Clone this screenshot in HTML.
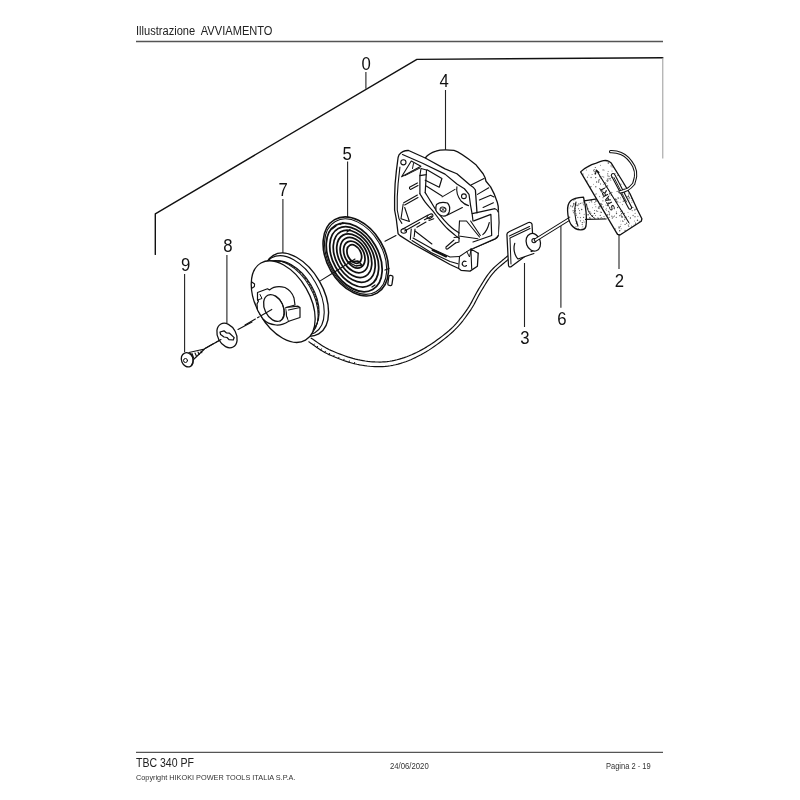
<!DOCTYPE html>
<html><head><meta charset="utf-8">
<style>
html,body{margin:0;padding:0;background:#fff;}
body{width:800px;height:800px;overflow:hidden;position:relative;}
svg{position:absolute;left:0;top:0;}
text{font-family:"Liberation Sans", sans-serif;}
svg{will-change:transform;}
</style></head><body>
<svg width="800" height="800" viewBox="0 0 800 800">
<rect width="800" height="800" fill="#fff"/>
<!-- header -->
<text x="136" y="35" font-size="12" fill="#222" textLength="136.5" lengthAdjust="spacingAndGlyphs" xml:space="preserve">Illustrazione  AVVIAMENTO</text>
<line x1="136" y1="41.5" x2="663" y2="41.5" stroke="#555" stroke-width="1.3"/>
<!-- footer -->
<line x1="136" y1="752.3" x2="663" y2="752.3" stroke="#555" stroke-width="1.3"/>
<text x="136" y="767" font-size="12" fill="#222" textLength="58" lengthAdjust="spacingAndGlyphs">TBC 340 PF</text>
<text x="136" y="780.3" font-size="7.4" fill="#333" textLength="159.5" lengthAdjust="spacingAndGlyphs">Copyright HIKOKI POWER TOOLS ITALIA S.P.A.</text>
<text x="390" y="768.6" font-size="8.2" fill="#333" textLength="38.7" lengthAdjust="spacingAndGlyphs">24/06/2020</text>
<text x="606" y="768.6" font-size="8.2" fill="#333" textLength="44.7" lengthAdjust="spacingAndGlyphs">Pagina 2 - 19</text>

<!-- bracket -->
<g fill="none" stroke="#111" stroke-width="1.4" stroke-linecap="round" stroke-linejoin="round">
<polyline points="155.3,254.4 155.3,213.8 416.9,59.4 662.8,57.8"/>
</g>
<line x1="662.8" y1="57.8" x2="662.8" y2="158.5" stroke="#999" stroke-width="1"/>

<!-- leaders -->
<g stroke="#222" stroke-width="1.1" fill="none">
<line x1="365.9" y1="71.9" x2="365.9" y2="88.7"/>
<line x1="445.5" y1="90" x2="445.5" y2="151"/>
<line x1="347.6" y1="161.5" x2="347.6" y2="217"/>
<line x1="282.9" y1="198.9" x2="282.9" y2="256"/>
<line x1="226.9" y1="255" x2="226.9" y2="323"/>
<line x1="184.6" y1="274" x2="184.6" y2="352"/>
<line x1="619" y1="233" x2="619" y2="268.9"/>
<line x1="560.9" y1="226" x2="560.9" y2="307.7"/>
<line x1="524.5" y1="263" x2="524.5" y2="327"/>
</g>

<!-- labels -->
<g fill="#111" font-size="18.6">
<text transform="translate(361.6,69.5) scale(0.9,1)">0</text>
<text transform="translate(439.4,86.8) scale(0.9,1)">4</text>
<text transform="translate(342.6,159.8) scale(0.9,1)">5</text>
<text transform="translate(278.6,196.0) scale(0.9,1)">7</text>
<text transform="translate(223.2,252.0) scale(0.9,1)">8</text>
<text transform="translate(181.1,271.1) scale(0.9,1)">9</text>
<text transform="translate(614.8,287.3) scale(0.9,1)">2</text>
<text transform="translate(557.3,325.4) scale(0.9,1)">6</text>
<text transform="translate(520.2,343.6) scale(0.9,1)">3</text>
</g>

<defs>
<pattern id="stip" width="5" height="5" patternUnits="userSpaceOnUse">
<rect width="5" height="5" fill="#fff"/>
<rect x="0.2" y="0.5" width="1.2" height="1.1" fill="#555"/>
<rect x="2.7" y="1.2" width="1" height="1.1" fill="#777"/>
<rect x="1.3" y="3.1" width="1.1" height="1" fill="#666"/>
<rect x="3.8" y="3.6" width="1.1" height="1.2" fill="#555"/>
</pattern>
</defs>
<g fill="none" stroke="#111" stroke-width="1.3" stroke-linecap="round" stroke-linejoin="round">

<!-- axis dashed lines -->
<g stroke-width="1.1">
<path d="M205,348.5 L221,339.5" stroke-dasharray="10 2"/>
<path d="M238,329.5 L252,322" />

<path d="M320.6,280.6 L333.75,272.5"/>
<path d="M333.75,272.5 L355,259"/>
<path d="M385,241.3 L396,235.6"/>
</g>

<!-- PART 9 screw -->
<g>
<path d="M189,352.5 L204.5,349 L193.5,359.5" fill="#fff" stroke-width="1.2"/>
<path d="M192,353.5 L193.5,357.5 M195,353 L196.5,356.2 M198,352 L199.2,354.5 M201,351 L201.8,352.8" stroke-width="1.1"/>
<ellipse cx="187.3" cy="359.8" rx="7.3" ry="5.8" transform="rotate(68 187.3 359.8)" fill="#fff" stroke-width="1.3"/>
<path d="M190.5,353.5 C193.5,356 194,361 191.5,365" stroke-width="1.1"/>
<circle cx="185.5" cy="360.5" r="2" stroke-width="1"/>
</g>

<!-- PART 8 washer -->
<g>
<ellipse cx="227" cy="335.5" rx="13" ry="9.2" transform="rotate(62 227 335.5)" fill="#fff"/>
<path d="M220,332 L224,330.8 L226.5,333 L229.5,333.2 L234.2,337.6 L233.2,340 L229,339.6 L227,337.5 L224,337 L220.6,334.6 Z" stroke-width="1.25"/>
<path d="M205,348.5 L221,339.5" stroke-width="1.1"/>
</g>

<!-- rope from pulley -->
<path d="M308.82,341.80 L309.71,342.39 L310.81,343.16 L312.10,344.08 L313.56,345.13 L315.16,346.26 L316.90,347.47 L318.74,348.71 L320.69,349.97 L322.71,351.22 L324.79,352.43 L326.93,353.57 L329.07,354.61 L331.24,355.59 L333.54,356.58 L335.94,357.58 L338.43,358.57 L340.99,359.55 L343.61,360.49 L346.28,361.38 L348.96,362.22 L351.66,362.99 L354.34,363.70 L357.00,364.31 L359.59,364.83 L362.14,365.27 L364.69,365.66 L367.24,365.99 L369.80,366.26 L372.37,366.47 L374.93,366.62 L377.50,366.68 L380.08,366.68 L382.65,366.58 L385.23,366.41 L387.82,366.14 L390.40,365.77 L392.97,365.31 L395.54,364.75 L398.10,364.10 L400.65,363.37 L403.21,362.56 L405.75,361.67 L408.30,360.70 L410.84,359.66 L413.37,358.54 L415.90,357.36 L418.43,356.10 L420.97,354.77 L423.54,353.34 L426.17,351.78 L428.83,350.12 L431.50,348.36 L434.18,346.53 L436.83,344.65 L439.43,342.74 L441.98,340.80 L444.44,338.87 L446.79,336.95 L449.03,335.07 L451.13,333.26 L453.11,331.47 L454.96,329.68 L456.71,327.89 L458.37,326.11 L459.93,324.32 L461.42,322.54 L462.85,320.77 L464.21,318.99 L465.54,317.23 L466.82,315.46 L468.08,313.71 L469.35,311.93 L470.59,310.12 L471.74,308.31 L472.83,306.49 L473.87,304.67 L474.85,302.86 L475.81,301.06 L476.73,299.28 L477.64,297.53 L478.55,295.80 L479.46,294.11 L480.39,292.46 L481.36,290.83 L482.35,289.20 L483.32,287.60 L484.28,286.01 L485.23,284.44 L486.18,282.90 L487.13,281.39 L488.09,279.90 L489.06,278.45 L490.04,277.04 L491.05,275.66 L492.09,274.32 L493.15,273.03 L494.29,271.76 L495.54,270.47 L496.86,269.18 L498.24,267.91 L499.64,266.66 L501.04,265.45 L502.42,264.29 L503.74,263.19 L504.99,262.17 L506.13,261.22 L507.15,260.37 L508.00,259.63 L508.67,259.03 L509.21,258.56 L509.63,258.19 L509.95,257.92 L510.18,257.73 L510.33,257.61 L510.42,257.54 L510.49,257.50 L510.57,257.44 L510.70,257.36 L510.83,257.26 L510.94,257.17" stroke-width="1.15"/><path d="M311.18,338.20 L312.16,338.84 L313.31,339.62 L314.62,340.53 L316.07,341.54 L317.65,342.63 L319.35,343.78 L321.15,344.96 L323.02,346.14 L324.95,347.30 L326.92,348.40 L328.91,349.44 L330.93,350.39 L333.06,351.31 L335.31,352.25 L337.66,353.19 L340.09,354.13 L342.59,355.05 L345.14,355.95 L347.71,356.82 L350.30,357.63 L352.87,358.39 L355.43,359.07 L357.94,359.67 L360.41,360.17 L362.86,360.60 L365.31,360.99 L367.76,361.32 L370.20,361.59 L372.63,361.80 L375.07,361.95 L377.50,362.02 L379.92,362.03 L382.35,361.95 L384.77,361.80 L387.18,361.56 L389.60,361.23 L392.03,360.81 L394.46,360.32 L396.90,359.76 L399.35,359.11 L401.79,358.39 L404.25,357.58 L406.70,356.70 L409.16,355.75 L411.63,354.72 L414.10,353.62 L416.57,352.46 L419.03,351.23 L421.54,349.89 L424.11,348.43 L426.74,346.86 L429.38,345.19 L432.04,343.46 L434.67,341.66 L437.27,339.83 L439.80,337.98 L442.25,336.13 L444.60,334.29 L446.81,332.49 L448.87,330.74 L450.77,329.03 L452.56,327.32 L454.25,325.61 L455.86,323.89 L457.38,322.18 L458.83,320.46 L460.22,318.73 L461.56,317.01 L462.87,315.27 L464.15,313.54 L465.41,311.79 L466.65,310.07 L467.83,308.36 L468.95,306.62 L470.01,304.87 L471.02,303.11 L472.00,301.34 L472.94,299.56 L473.88,297.79 L474.80,296.03 L475.73,294.28 L476.68,292.54 L477.65,290.83 L478.64,289.17 L479.63,287.56 L480.61,285.95 L481.58,284.36 L482.55,282.78 L483.52,281.22 L484.50,279.68 L485.49,278.16 L486.50,276.66 L487.53,275.19 L488.60,273.75 L489.70,272.34 L490.85,270.97 L492.08,269.61 L493.39,268.26 L494.78,266.92 L496.21,265.61 L497.65,264.34 L499.08,263.11 L500.48,261.94 L501.81,260.84 L503.06,259.83 L504.19,258.90 L505.17,258.08 L506.00,257.37 L506.69,256.77 L507.25,256.28 L507.69,255.89 L508.05,255.60 L508.32,255.37 L508.54,255.20 L508.72,255.07 L508.85,254.98 L508.91,254.94 L508.93,254.93 L508.95,254.92 L509.06,254.83" stroke-width="1.2"/><path d="M313.56,345.13 L314.31,344.06 M316.90,347.47 L317.62,346.39 M320.69,349.97 L321.36,348.86 M324.79,352.43 L325.40,351.28 M329.07,354.61 L329.59,353.42 M333.54,356.58 L334.03,355.38 M338.43,358.57 L338.88,357.36 M343.61,360.49 L344.03,359.26 M348.96,362.22 L349.33,360.97 M354.34,363.70 L354.64,362.43" stroke-width="1"/>

<!-- PART 7 pulley -->
<g>
<ellipse cx="296" cy="294.6" rx="45.4" ry="27" transform="rotate(60 296 294.6)" fill="#fff" stroke-width="1.4"/>
<ellipse cx="293.2" cy="295.25" rx="43.2" ry="25.7" transform="rotate(60 293.2 295.25)" stroke-width="1.1"/>
<ellipse cx="291" cy="296.9" rx="39.2" ry="23.3" transform="rotate(60 291 296.9)" stroke-width="1.1"/>
<ellipse cx="289.5" cy="298" rx="40.5" ry="24.2" transform="rotate(60 289.5 298)" stroke-width="1" stroke-dasharray="2.5 1.5"/>
<ellipse cx="288" cy="299" rx="41.8" ry="25" transform="rotate(60 288 299)" stroke-width="1"/>
<ellipse cx="283.2" cy="301.6" rx="44.5" ry="26.5" transform="rotate(60 283.2 301.6)" fill="#fff" stroke-width="1.3"/>
<path d="M251.8,282 L254.6,284 L254.4,286.5 L252.3,288" stroke-width="1.1"/>
<!-- hub -->
<path d="M257.5,292.5 L267.5,288.75 L269.5,290 C273,287 279,286 285,287.5 C289,289.5 292.5,293 294,298 L295,305 L286,307.5 L286.5,316 L288.75,321.25 C286,323 281,325.5 276,325 C271,324.5 266,322.5 263,319 L260.5,315 L257.5,310 L257,304 L258.5,301 L257.5,300 Z" fill="#fff" stroke-width="1.2"/>
<path d="M257.5,300 L262,298.5 L260,294.5" stroke-width="1"/>
<ellipse cx="274" cy="308" rx="14.2" ry="9.3" transform="rotate(64 274 308)" stroke-width="1.3"/>
<path d="M276,296 C281,299 284,306 284,313 C283.5,317 282,320 280,321.5" stroke-width="1"/>
<path d="M286,307.5 L298,306.2 L300,307.5 L300,317.5 L288.75,321.25 M288.5,310 L300,307.5" fill="#fff" stroke-width="1.2"/>
<path d="M245,325 L272.5,309" stroke-width="1.1" stroke-dasharray="12 2.5 2 2.5"/>
</g>

<!-- PART 5 spring -->
<g stroke-width="1.6">
<ellipse cx="355.80" cy="256.40" rx="42.40" ry="28.80" transform="rotate(60.0 355.80 256.40)" stroke-width="1.6"/>
<ellipse cx="355.60" cy="256.60" rx="40.60" ry="27.20" transform="rotate(60.0 355.60 256.60)" stroke-width="1.1"/>
<ellipse cx="354.20" cy="257.40" rx="37.00" ry="24.20" transform="rotate(60.0 354.20 257.40)" stroke-width="1.75"/>
<ellipse cx="354.22" cy="256.83" rx="32.47" ry="21.27" transform="rotate(60.5 354.22 256.83)" stroke-width="1.75"/>
<ellipse cx="354.23" cy="256.27" rx="27.93" ry="18.33" transform="rotate(61.0 354.23 256.27)" stroke-width="1.75"/>
<ellipse cx="354.25" cy="255.70" rx="23.40" ry="15.40" transform="rotate(61.5 354.25 255.70)" stroke-width="1.75"/>
<ellipse cx="354.27" cy="255.13" rx="18.87" ry="12.47" transform="rotate(62.0 354.27 255.13)" stroke-width="1.75"/>
<ellipse cx="354.28" cy="254.57" rx="14.33" ry="9.53" transform="rotate(62.5 354.28 254.57)" stroke-width="1.75"/>
<ellipse cx="354.30" cy="254.00" rx="9.80" ry="6.60" transform="rotate(63.0 354.30 254.00)" stroke-width="1.75"/>
<path d="M332,229 L336,226 M340,224.5 L343,222.5 M347,232 L350,229.5 M385,270 L389,268.5 M372,287 L375,285" stroke-width="1.3"/>
<rect x="388.3" y="275.5" width="4.2" height="10" rx="1.5" transform="rotate(8 390.4 280.5)" stroke-width="1.3" fill="#fff"/>
<path d="M348,262 L356,266 L362,265 L358,261 Z" stroke-width="1.3"/>
</g>

<!-- PART 4 housing -->
<g stroke-width="1.3">
<!-- dome -->
<path d="M425.25,158 C428,154.5 432,152.5 436,151.2 C440,149.5 445.6,149.4 454,150.3 C460,152 466.25,156.9 475.6,164.4 L483.1,173.75 L485,177.5 L486,181.25 L490.6,186.9 L494.4,194.4 L497.2,201.9 L498.2,206.25 L499,222.5 L498.2,235.5 Q497.5,237.5 495,238.8 L473,248.5 L470.9,249.1" fill="#fff"/>
<!-- flange fill -->
<path d="M408.6,150.5 C404,150.3 401,152.2 399,154.9 L398.1,157.5 L396.4,170.6 L395.1,183.75 L394.6,196.9 L394.6,210 L396.25,218.75 L398.1,233.75 L400,235.6 L413.1,244 L431.9,254.4 L450,264.5 L458.7,268.5 L461,270.3 L470,271.1 L477.4,266.2 L478.2,253.2 L473,248.5 L495,238.8 L498.2,235.5 L498.2,210 L477,212.8 L475.4,190 L470,185 L456.9,173.75 L445,168.9 L425.25,158 Z" fill="#fff" stroke="none"/>
<!-- flange outline -->
<path d="M478.2,253.2 L477.4,266.2 L470,271.1 L461,270.3 L458.7,268.5 L450,264.5 L431.9,254.4 L413.1,244 L400,235.6 L398.1,233.75 L396.25,218.75 L394.6,210 L394.6,196.9 L395.1,183.75 L396.4,170.6 L398.1,157.5 L399,154.9 C401,152.2 404,150.3 408.6,150.5 L425.25,158 L445,168.9 L456.9,173.75 L470,185 Q473.5,187 475.4,190 L477,212.8"/>
<path d="M459.5,256.5 L458.7,267.8 M459.5,256.5 L466.8,251.6 L470.9,249.1 L471.7,268.7 M470.9,249.1 L478.2,253.2" stroke-width="1.1"/>
<path d="M470.9,249.1 L473,248.5 L495,238.8 Q497.5,237.5 498.2,235.5" stroke-width="1.3"/>
<path d="M466.8,251.6 L469.5,257 L471,250" stroke-width="1"/>
<!-- window frame right -->
<path d="M472.2,213.6 L495,208.7 Q497.5,209.5 498.2,212" stroke-width="1.2"/>
<path d="M473.8,220.9 L490.9,214.4 L491.7,235.5 L473,242" stroke-width="1.2"/>
<path d="M470.6,221 L480.3,235.5 M489.3,222.5 C488,228 486,232 482.8,234.7" stroke-width="1.1"/>
<!-- flange inner edges -->
<path d="M402.5,154.5 L422.6,163.2 L445,174.1 L456.9,184 L464.4,188.75 L469,194.4 L470.6,205.6 L472.2,214.4 L473,221" stroke-width="1.2"/>
<path d="M399.9,167.1 L398.1,183.75 L397.25,196.9 L397.25,210 L399,218.75 L401.9,223.4" stroke-width="1.1"/>
<path d="M412,240.5 L431,252.5 L450,261.5 L457.9,263.8" stroke-width="1.1"/>
<path d="M413,238 L432.5,249 L450,257 L459.5,256.5" stroke-width="1.1"/>
<path d="M432.5,250 L446,256.5" stroke-width="2"/>
<!-- holes -->
<circle cx="403.4" cy="162.3" r="2.6" stroke-width="1.1"/>
<circle cx="463.9" cy="196.25" r="2.4" stroke-width="1.1"/>
<ellipse cx="403.75" cy="231" rx="2.8" ry="2.2" stroke-width="1.1"/>
<path d="M466,261.5 A2.5,2.5 0 1,0 466.5,265.5" stroke-width="1.1"/>
<path d="M456.9,186.9 C456,192 458.75,198 461,201 C463,203 466,205 468.5,205.6" stroke-width="1.1"/>
<!-- dome right ribs -->
<path d="M471,185 L484,178.4 M477.5,194.4 L488.75,187.8 M479.4,200 L490.6,195.3 L494,197 M483.1,207.5 L493.4,202.8" stroke-width="1.1"/>
<!-- TL interior -->
<path d="M411.25,161 L401.6,176.75 L420.9,166.25 Z" stroke-width="1.1"/>
<path d="M413.5,163.5 L412.5,168.5" stroke-width="1"/>
<path d="M405.1,175.5 L420,168" stroke-width="1"/>
<path d="M421,168.5 L426.5,170 L426.25,174.6 L419.9,175.6 Z" stroke-width="1.1"/>
<path d="M419.9,175.6 L419.9,193.7 M426.25,174.6 L425.2,192.6" stroke-width="1.2"/>
<path d="M427,169.75 L441.9,178.5 L439.25,187.25 L425.25,180.25" stroke-width="1.2"/>
<path d="M409.5,187.25 L417.4,182.9 M410.5,189.5 L418,185.5 M409.5,187.25 Q409,189 410.5,189.5" stroke-width="1.1"/>

<!-- curved rib -->
<path d="M419.9,193.7 C420.8,195.1 423.1,199.4 425.2,202.2 C427.3,205.0 430.1,207.7 432.6,210.7 C435.1,213.7 437.5,217.3 440,220.3 C442.5,223.3 445.0,226.3 447.5,228.75 C450.0,231.2 453.1,233.5 455,235.1 C456.9,236.7 458.5,237.8 459.2,238.3" stroke-width="1.2"/>
<path d="M425.2,192.6 C426.1,194.0 428.7,198.3 430.5,201.1 C432.3,203.9 433.5,206.4 435.8,209.6 C438.1,212.8 441.6,217.3 444.3,220.3 C447.0,223.3 449.3,225.6 451.75,227.7 C454.2,229.8 458.0,232.1 459.2,233" stroke-width="1.2"/>
<!-- center boss -->
<path d="M436.5,204.5 C439,202.5 443,202 447.5,203 C449.5,205 450,209 449.2,212 C448,215 446,216.3 443,216 C440,215.6 437.5,213.5 436,210.5 C435.5,208 435.8,206 436.5,204.5 Z" fill="#fff" stroke-width="1.2"/>
<ellipse cx="443" cy="209.5" rx="3" ry="2.4" transform="rotate(20 443 209.5)" stroke-width="1"/>
<path d="M441.7,208.2 L444.3,210.8 M444.3,208.2 L441.7,210.8" stroke-width="0.9"/>
<path d="M442.2,196.9 L455,189.4" stroke-width="1.1"/>
<path d="M426.25,186 L442,196" stroke-width="1.1"/>
<path d="M447.5,215 L462.4,207.5" stroke-width="1.1"/>
<!-- lower-left window -->
<path d="M403.75,202.8 L417.4,195.1 M404.7,205 L418,197.5" stroke-width="1.1"/>
<path d="M403.2,204 L401,218.75 L409.4,221.5 M404.7,207.5 L409.4,221.5" stroke-width="1.1"/>
<!-- horizontal ribs -->
<path d="M402.8,229 L428.1,215 M404.7,231 L419.7,222.5 M424.4,219.7 L431.9,216 M416.9,227.2 L426,222 M429,220.5 L433.75,218.75" stroke-width="1.1"/>
<ellipse cx="430" cy="216.3" rx="3.2" ry="1.9" transform="rotate(-30 430 216.3)" stroke-width="1"/>
<path d="M411.25,229 L410.3,239.4 M415,229 L414.2,236.8" stroke-width="1.1"/>
<path d="M415,231 L431.9,244" stroke-width="1.1"/>
<!-- bottom pin -->
<path d="M446,247 L454,240 M447.5,249 L455.5,243 M446,247 Q445.5,249.5 447.5,249" stroke-width="1.1"/>
<path d="M454,237.5 L459,237 L459,242 L455.5,243" stroke-width="1.1"/>
<!-- bottom center cavity -->
<path d="M459.5,220.7 L466.5,221 L479.5,237 M459.5,220.7 L458.7,236 L477.9,238.8" stroke-width="1.1"/>
</g>

<!-- PART 3 grommet -->
<g>
<path d="M506.9,234.4 Q507,232.5 509,231.8 L528.5,222.5 Q531,222 532,224 L533.5,250 L511,266.8 Q508.8,267.5 508.5,265.5 Z" fill="#fff" stroke-width="1.25"/>
<path d="M510,238 L530,228.5 M509.3,236 L529.5,226.5" stroke-width="1.05"/>
<path d="M510,238.5 L511,264" stroke-width="1"/>
<path d="M514.75,243.4 C513,249 514.5,255.5 518,259 L533.9,253.5" fill="#fff" stroke-width="1.2"/>
<ellipse cx="533.3" cy="242.3" rx="9" ry="7" transform="rotate(70 533.3 242.3)" fill="#fff" stroke-width="1.25"/>
<circle cx="534" cy="240.6" r="2.1" stroke-width="1.1"/>
</g>

<!-- PART 6 rope -->
<path d="M535.5,240 L568.5,219.5" stroke-width="3.6"/>
<path d="M535.5,240 L568.5,219.5" stroke="#fff" stroke-width="1.5"/>

<!-- PART 2 handle -->
<g>
<clipPath id="ck"><path d="M584,200.8 L597,198.8 L606,219 L585.6,219.4 Z M583.5,197.2 C578,197.5 573,198.5 570.5,201 C568,203.5 567.4,207 567.6,211 C567.8,216 568.5,220.5 571,224.5 C573.5,228 577,230 581,229.9 C584,229.8 585.5,228.5 586,226 C587,219 586,206 583.5,197.2 Z"/></clipPath>
<path d="M584,200.8 L597,198.8 L606,219 L585.6,219.4 Z" fill="#fff" stroke="none"/>
<path d="M583.5,197.2 C578,197.5 573,198.5 570.5,201 C568,203.5 567.4,207 567.6,211 C567.8,216 568.5,220.5 571,224.5 C573.5,228 577,230 581,229.9 C584,229.8 585.5,228.5 586,226 C587,219 586,206 583.5,197.2 Z" fill="#fff" stroke="none"/>
<g clip-path="url(#ck)" stroke="none"><circle cx="590.6" cy="227.2" r="0.68" fill="#4b4b4b"/><circle cx="577.3" cy="226.3" r="0.45" fill="#757575"/><circle cx="597.7" cy="211.3" r="0.54" fill="#4f4f4f"/><circle cx="575.4" cy="210.5" r="0.60" fill="#626262"/><circle cx="605.8" cy="223.3" r="0.64" fill="#818181"/><circle cx="573.8" cy="199.9" r="0.63" fill="#3f3f3f"/><circle cx="566.5" cy="213.1" r="0.59" fill="#7c7c7c"/><circle cx="590.8" cy="213.0" r="0.60" fill="#4d4d4d"/><circle cx="565.5" cy="201.1" r="0.66" fill="#4a4a4a"/><circle cx="580.2" cy="194.1" r="0.70" fill="#464646"/><circle cx="576.0" cy="226.6" r="0.60" fill="#777777"/><circle cx="591.2" cy="221.4" r="0.48" fill="#616161"/><circle cx="585.8" cy="226.2" r="0.56" fill="#656565"/><circle cx="567.4" cy="208.3" r="0.55" fill="#464646"/><circle cx="598.5" cy="208.0" r="0.74" fill="#656565"/><circle cx="589.8" cy="217.6" r="0.65" fill="#464646"/><circle cx="583.1" cy="202.9" r="0.57" fill="#424242"/><circle cx="604.7" cy="202.0" r="0.65" fill="#515151"/><circle cx="600.8" cy="218.5" r="0.49" fill="#777777"/><circle cx="603.7" cy="227.4" r="0.62" fill="#464646"/><circle cx="572.9" cy="228.3" r="0.62" fill="#484848"/><circle cx="601.2" cy="217.7" r="0.62" fill="#565656"/><circle cx="581.8" cy="202.9" r="0.46" fill="#797979"/><circle cx="584.2" cy="214.3" r="0.55" fill="#707070"/><circle cx="566.0" cy="207.8" r="0.46" fill="#444444"/><circle cx="604.7" cy="218.3" r="0.58" fill="#606060"/><circle cx="600.8" cy="206.7" r="0.63" fill="#6b6b6b"/><circle cx="579.6" cy="213.2" r="0.68" fill="#7b7b7b"/><circle cx="571.2" cy="228.5" r="0.45" fill="#707070"/><circle cx="598.2" cy="199.1" r="0.58" fill="#757575"/><circle cx="565.6" cy="217.3" r="0.69" fill="#5f5f5f"/><circle cx="594.8" cy="202.4" r="0.51" fill="#555555"/><circle cx="572.4" cy="206.8" r="0.73" fill="#646464"/><circle cx="578.9" cy="204.0" r="0.74" fill="#5b5b5b"/><circle cx="605.2" cy="213.1" r="0.61" fill="#7a7a7a"/><circle cx="595.5" cy="215.5" r="0.58" fill="#797979"/><circle cx="581.9" cy="228.1" r="0.47" fill="#5a5a5a"/><circle cx="586.3" cy="229.2" r="0.53" fill="#747474"/><circle cx="592.7" cy="220.5" r="0.64" fill="#808080"/><circle cx="578.6" cy="208.7" r="0.51" fill="#3f3f3f"/><circle cx="573.7" cy="227.9" r="0.70" fill="#434343"/><circle cx="589.8" cy="211.7" r="0.63" fill="#6a6a6a"/><circle cx="577.6" cy="229.6" r="0.59" fill="#676767"/><circle cx="591.0" cy="200.8" r="0.47" fill="#585858"/><circle cx="596.3" cy="224.2" r="0.67" fill="#434343"/><circle cx="602.4" cy="223.7" r="0.71" fill="#606060"/><circle cx="602.5" cy="195.7" r="0.46" fill="#3d3d3d"/><circle cx="575.4" cy="203.2" r="0.51" fill="#636363"/><circle cx="566.6" cy="215.8" r="0.50" fill="#6b6b6b"/><circle cx="565.9" cy="205.5" r="0.73" fill="#616161"/><circle cx="598.3" cy="218.3" r="0.63" fill="#494949"/><circle cx="588.6" cy="195.5" r="0.69" fill="#7f7f7f"/><circle cx="600.0" cy="195.9" r="0.55" fill="#525252"/><circle cx="569.6" cy="217.2" r="0.69" fill="#515151"/><circle cx="600.4" cy="223.5" r="0.49" fill="#717171"/><circle cx="601.2" cy="201.3" r="0.62" fill="#686868"/><circle cx="590.0" cy="197.6" r="0.65" fill="#686868"/><circle cx="598.8" cy="223.7" r="0.55" fill="#6e6e6e"/><circle cx="600.6" cy="227.0" r="0.50" fill="#3d3d3d"/><circle cx="591.7" cy="201.9" r="0.62" fill="#7e7e7e"/><circle cx="580.6" cy="203.4" r="0.59" fill="#6a6a6a"/><circle cx="569.1" cy="208.1" r="0.49" fill="#6a6a6a"/><circle cx="599.1" cy="207.9" r="0.56" fill="#616161"/><circle cx="573.8" cy="203.2" r="0.55" fill="#5c5c5c"/><circle cx="568.3" cy="221.9" r="0.62" fill="#505050"/><circle cx="568.2" cy="222.2" r="0.49" fill="#454545"/><circle cx="570.4" cy="197.0" r="0.72" fill="#4e4e4e"/><circle cx="577.6" cy="224.8" r="0.64" fill="#494949"/><circle cx="582.8" cy="226.7" r="0.56" fill="#6d6d6d"/><circle cx="569.0" cy="220.9" r="0.68" fill="#757575"/><circle cx="592.6" cy="207.7" r="0.47" fill="#606060"/><circle cx="596.1" cy="201.1" r="0.53" fill="#616161"/><circle cx="595.7" cy="227.2" r="0.49" fill="#484848"/><circle cx="597.8" cy="217.8" r="0.67" fill="#818181"/><circle cx="603.5" cy="225.2" r="0.68" fill="#575757"/><circle cx="591.3" cy="200.8" r="0.68" fill="#717171"/><circle cx="594.6" cy="210.5" r="0.56" fill="#595959"/><circle cx="566.4" cy="225.2" r="0.61" fill="#575757"/><circle cx="587.5" cy="220.7" r="0.56" fill="#767676"/><circle cx="602.7" cy="208.3" r="0.49" fill="#717171"/><circle cx="605.7" cy="199.5" r="0.66" fill="#757575"/><circle cx="602.7" cy="198.6" r="0.48" fill="#818181"/><circle cx="569.8" cy="200.5" r="0.62" fill="#5b5b5b"/><circle cx="595.8" cy="201.1" r="0.72" fill="#4b4b4b"/><circle cx="596.5" cy="196.5" r="0.59" fill="#3e3e3e"/><circle cx="577.9" cy="205.6" r="0.67" fill="#5b5b5b"/><circle cx="567.3" cy="230.8" r="0.72" fill="#7c7c7c"/><circle cx="575.1" cy="208.6" r="0.52" fill="#444444"/><circle cx="566.4" cy="212.6" r="0.49" fill="#484848"/><circle cx="600.3" cy="211.9" r="0.51" fill="#6a6a6a"/><circle cx="575.9" cy="213.5" r="0.53" fill="#606060"/><circle cx="590.8" cy="213.8" r="0.57" fill="#737373"/><circle cx="600.8" cy="200.6" r="0.49" fill="#434343"/><circle cx="605.2" cy="228.8" r="0.52" fill="#7f7f7f"/><circle cx="573.5" cy="212.7" r="0.60" fill="#7c7c7c"/><circle cx="566.7" cy="205.7" r="0.63" fill="#404040"/><circle cx="574.7" cy="211.2" r="0.71" fill="#717171"/><circle cx="599.0" cy="222.2" r="0.66" fill="#777777"/><circle cx="592.9" cy="221.2" r="0.54" fill="#474747"/><circle cx="596.0" cy="200.1" r="0.73" fill="#656565"/><circle cx="578.5" cy="228.7" r="0.50" fill="#606060"/><circle cx="568.8" cy="229.7" r="0.62" fill="#747474"/><circle cx="576.6" cy="223.7" r="0.66" fill="#696969"/><circle cx="604.0" cy="210.0" r="0.57" fill="#6c6c6c"/><circle cx="599.2" cy="206.4" r="0.65" fill="#4a4a4a"/><circle cx="587.6" cy="222.5" r="0.47" fill="#6e6e6e"/><circle cx="565.6" cy="229.5" r="0.59" fill="#585858"/><circle cx="594.5" cy="213.4" r="0.67" fill="#414141"/><circle cx="588.1" cy="214.7" r="0.73" fill="#3e3e3e"/><circle cx="583.6" cy="217.3" r="0.62" fill="#414141"/><circle cx="589.3" cy="202.2" r="0.51" fill="#797979"/><circle cx="573.1" cy="210.8" r="0.68" fill="#6d6d6d"/><circle cx="587.7" cy="223.9" r="0.59" fill="#676767"/><circle cx="598.6" cy="219.1" r="0.64" fill="#585858"/><circle cx="587.9" cy="208.7" r="0.67" fill="#565656"/><circle cx="584.1" cy="222.0" r="0.60" fill="#535353"/><circle cx="598.9" cy="208.1" r="0.70" fill="#727272"/><circle cx="583.3" cy="220.4" r="0.46" fill="#575757"/><circle cx="600.3" cy="215.4" r="0.62" fill="#6a6a6a"/><circle cx="592.8" cy="215.6" r="0.58" fill="#484848"/><circle cx="577.0" cy="204.8" r="0.58" fill="#818181"/><circle cx="579.5" cy="210.6" r="0.56" fill="#646464"/><circle cx="603.9" cy="226.9" r="0.56" fill="#4e4e4e"/><circle cx="601.3" cy="212.3" r="0.66" fill="#414141"/><circle cx="600.5" cy="205.6" r="0.60" fill="#494949"/><circle cx="582.2" cy="224.6" r="0.70" fill="#5d5d5d"/><circle cx="596.5" cy="210.9" r="0.56" fill="#626262"/><circle cx="573.3" cy="205.7" r="0.66" fill="#717171"/><circle cx="567.3" cy="221.1" r="0.70" fill="#5b5b5b"/><circle cx="567.6" cy="219.3" r="0.52" fill="#696969"/><circle cx="580.4" cy="217.6" r="0.53" fill="#5d5d5d"/><circle cx="586.5" cy="217.3" r="0.51" fill="#7f7f7f"/><circle cx="576.9" cy="205.3" r="0.53" fill="#404040"/><circle cx="582.3" cy="222.6" r="0.66" fill="#494949"/><circle cx="570.6" cy="205.9" r="0.68" fill="#5e5e5e"/><circle cx="602.9" cy="218.3" r="0.64" fill="#717171"/><circle cx="595.8" cy="206.7" r="0.53" fill="#5a5a5a"/><circle cx="585.1" cy="199.2" r="0.58" fill="#686868"/><circle cx="570.6" cy="199.1" r="0.50" fill="#4f4f4f"/><circle cx="604.4" cy="195.0" r="0.51" fill="#474747"/><circle cx="584.4" cy="194.6" r="0.59" fill="#474747"/><circle cx="576.1" cy="223.3" r="0.51" fill="#676767"/><circle cx="581.7" cy="209.5" r="0.70" fill="#474747"/><circle cx="602.9" cy="227.1" r="0.65" fill="#3f3f3f"/><circle cx="592.2" cy="216.2" r="0.68" fill="#4a4a4a"/><circle cx="604.1" cy="226.8" r="0.48" fill="#525252"/><circle cx="566.3" cy="224.7" r="0.72" fill="#818181"/><circle cx="590.1" cy="218.6" r="0.65" fill="#636363"/><circle cx="604.0" cy="216.5" r="0.55" fill="#5f5f5f"/><circle cx="565.8" cy="220.8" r="0.66" fill="#595959"/><circle cx="599.9" cy="222.0" r="0.55" fill="#414141"/><circle cx="570.4" cy="200.8" r="0.54" fill="#5b5b5b"/><circle cx="603.0" cy="204.3" r="0.72" fill="#6b6b6b"/><circle cx="600.0" cy="208.9" r="0.45" fill="#737373"/><circle cx="575.1" cy="199.3" r="0.69" fill="#6c6c6c"/><circle cx="573.7" cy="203.9" r="0.73" fill="#4e4e4e"/><circle cx="593.8" cy="198.8" r="0.69" fill="#444444"/><circle cx="586.2" cy="195.3" r="0.62" fill="#777777"/><circle cx="568.5" cy="204.1" r="0.68" fill="#666666"/><circle cx="577.8" cy="217.3" r="0.59" fill="#787878"/><circle cx="577.0" cy="222.0" r="0.64" fill="#6f6f6f"/><circle cx="580.5" cy="220.8" r="0.66" fill="#575757"/><circle cx="566.1" cy="229.6" r="0.66" fill="#4a4a4a"/><circle cx="595.0" cy="204.3" r="0.59" fill="#787878"/><circle cx="583.4" cy="204.7" r="0.54" fill="#414141"/><circle cx="574.0" cy="204.0" r="0.50" fill="#404040"/><circle cx="584.1" cy="201.9" r="0.67" fill="#7c7c7c"/><circle cx="576.2" cy="215.2" r="0.60" fill="#414141"/><circle cx="570.1" cy="226.7" r="0.59" fill="#747474"/><circle cx="567.7" cy="216.0" r="0.71" fill="#787878"/></g>
<path d="M584,200.8 L597,198.8 M585.6,219.4 L606,219" stroke-width="1.25"/>
<path d="M583.5,197.2 C578,197.5 573,198.5 570.5,201 C568,203.5 567.4,207 567.6,211 C567.8,216 568.5,220.5 571,224.5 C573.5,228 577,230 581,229.9 C584,229.8 585.5,228.5 586,226 C587,219 586,206 583.5,197.2 Z" stroke-width="1.3"/>
<path d="M576,202 C574,209 574.5,219 578,226" stroke-width="1.05"/>
<path d="M586.5,204 C587,210 590,215.5 595,218.5" stroke-width="0.95"/>
<clipPath id="cb"><path d="M580.6,171.9 C583,169.5 585,168 587.5,166.9 C590,165.2 593,163.8 596.25,163.1 C599,162 601.5,161 603.75,160.6 C605.5,160.4 607.5,160.6 608.75,161.25 L611.25,163.1 L622.5,181.25 L630,193.75 L637.5,210 L641.9,218.75 L641.25,221.25 L620,235 L617.5,234.4 Z"/></clipPath><path d="M580.6,171.9 C583,169.5 585,168 587.5,166.9 C590,165.2 593,163.8 596.25,163.1 C599,162 601.5,161 603.75,160.6 C605.5,160.4 607.5,160.6 608.75,161.25 L611.25,163.1 L622.5,181.25 L630,193.75 L637.5,210 L641.9,218.75 L641.25,221.25 L620,235 L617.5,234.4 Z" fill="#fff" stroke="none"/><g clip-path="url(#cb)" stroke="none"><circle cx="578.4" cy="199.2" r="0.56" fill="#717171"/><circle cx="582.9" cy="178.9" r="0.69" fill="#5c5c5c"/><circle cx="608.4" cy="234.5" r="0.55" fill="#3e3e3e"/><circle cx="604.3" cy="170.1" r="0.47" fill="#636363"/><circle cx="641.9" cy="203.8" r="0.64" fill="#525252"/><circle cx="616.3" cy="217.4" r="0.63" fill="#747474"/><circle cx="614.9" cy="173.7" r="0.62" fill="#5e5e5e"/><circle cx="589.1" cy="206.9" r="0.70" fill="#454545"/><circle cx="614.5" cy="216.0" r="0.57" fill="#4e4e4e"/><circle cx="602.9" cy="200.8" r="0.66" fill="#636363"/><circle cx="585.2" cy="222.6" r="0.73" fill="#434343"/><circle cx="594.7" cy="171.7" r="0.70" fill="#7b7b7b"/><circle cx="581.0" cy="184.3" r="0.51" fill="#5c5c5c"/><circle cx="639.7" cy="163.5" r="0.50" fill="#5e5e5e"/><circle cx="613.1" cy="216.9" r="0.58" fill="#454545"/><circle cx="601.7" cy="235.6" r="0.68" fill="#444444"/><circle cx="632.2" cy="182.6" r="0.68" fill="#3c3c3c"/><circle cx="636.4" cy="170.8" r="0.59" fill="#6a6a6a"/><circle cx="612.0" cy="171.1" r="0.49" fill="#4f4f4f"/><circle cx="581.5" cy="175.1" r="0.49" fill="#5c5c5c"/><circle cx="601.9" cy="204.4" r="0.53" fill="#3e3e3e"/><circle cx="600.2" cy="217.7" r="0.53" fill="#585858"/><circle cx="628.6" cy="190.1" r="0.72" fill="#7c7c7c"/><circle cx="598.8" cy="216.1" r="0.53" fill="#454545"/><circle cx="607.3" cy="205.6" r="0.73" fill="#464646"/><circle cx="625.7" cy="195.6" r="0.49" fill="#808080"/><circle cx="624.6" cy="168.2" r="0.72" fill="#434343"/><circle cx="584.2" cy="184.2" r="0.73" fill="#3e3e3e"/><circle cx="639.5" cy="206.3" r="0.47" fill="#636363"/><circle cx="608.7" cy="202.6" r="0.67" fill="#6b6b6b"/><circle cx="644.8" cy="170.4" r="0.69" fill="#585858"/><circle cx="630.5" cy="228.5" r="0.75" fill="#4e4e4e"/><circle cx="608.3" cy="232.5" r="0.73" fill="#565656"/><circle cx="641.0" cy="190.1" r="0.56" fill="#707070"/><circle cx="609.6" cy="193.4" r="0.57" fill="#5a5a5a"/><circle cx="587.4" cy="162.8" r="0.68" fill="#636363"/><circle cx="623.0" cy="221.4" r="0.52" fill="#4c4c4c"/><circle cx="596.6" cy="182.0" r="0.68" fill="#565656"/><circle cx="599.7" cy="208.3" r="0.51" fill="#434343"/><circle cx="624.7" cy="217.8" r="0.54" fill="#686868"/><circle cx="580.3" cy="189.9" r="0.62" fill="#4d4d4d"/><circle cx="601.3" cy="206.2" r="0.63" fill="#464646"/><circle cx="625.3" cy="164.3" r="0.74" fill="#4a4a4a"/><circle cx="595.0" cy="173.8" r="0.75" fill="#505050"/><circle cx="618.6" cy="236.3" r="0.74" fill="#3e3e3e"/><circle cx="612.9" cy="205.5" r="0.66" fill="#535353"/><circle cx="600.0" cy="158.3" r="0.46" fill="#626262"/><circle cx="583.1" cy="174.0" r="0.55" fill="#404040"/><circle cx="580.1" cy="231.2" r="0.58" fill="#4a4a4a"/><circle cx="625.5" cy="158.7" r="0.52" fill="#7f7f7f"/><circle cx="638.1" cy="208.2" r="0.48" fill="#525252"/><circle cx="579.9" cy="175.3" r="0.46" fill="#444444"/><circle cx="620.4" cy="165.9" r="0.50" fill="#7b7b7b"/><circle cx="600.5" cy="184.3" r="0.48" fill="#737373"/><circle cx="623.3" cy="201.2" r="0.64" fill="#434343"/><circle cx="595.4" cy="204.1" r="0.74" fill="#757575"/><circle cx="620.9" cy="199.0" r="0.45" fill="#7a7a7a"/><circle cx="582.5" cy="168.2" r="0.66" fill="#747474"/><circle cx="630.7" cy="193.7" r="0.50" fill="#3e3e3e"/><circle cx="635.0" cy="235.2" r="0.52" fill="#787878"/><circle cx="605.0" cy="182.6" r="0.60" fill="#3c3c3c"/><circle cx="607.7" cy="173.8" r="0.66" fill="#5f5f5f"/><circle cx="636.2" cy="228.8" r="0.55" fill="#4f4f4f"/><circle cx="640.9" cy="197.8" r="0.48" fill="#3f3f3f"/><circle cx="644.4" cy="203.8" r="0.47" fill="#5f5f5f"/><circle cx="611.8" cy="192.4" r="0.74" fill="#7e7e7e"/><circle cx="586.4" cy="170.0" r="0.57" fill="#767676"/><circle cx="619.8" cy="215.7" r="0.62" fill="#4a4a4a"/><circle cx="632.8" cy="159.1" r="0.66" fill="#494949"/><circle cx="609.6" cy="235.0" r="0.61" fill="#3f3f3f"/><circle cx="606.7" cy="210.2" r="0.47" fill="#4d4d4d"/><circle cx="579.2" cy="200.7" r="0.56" fill="#5f5f5f"/><circle cx="597.8" cy="209.9" r="0.50" fill="#7b7b7b"/><circle cx="642.3" cy="196.9" r="0.59" fill="#787878"/><circle cx="597.4" cy="221.4" r="0.54" fill="#6e6e6e"/><circle cx="600.4" cy="205.6" r="0.73" fill="#3f3f3f"/><circle cx="632.1" cy="200.8" r="0.56" fill="#545454"/><circle cx="582.7" cy="178.4" r="0.64" fill="#424242"/><circle cx="622.9" cy="234.0" r="0.74" fill="#7a7a7a"/><circle cx="632.0" cy="172.1" r="0.74" fill="#4a4a4a"/><circle cx="636.2" cy="227.4" r="0.64" fill="#606060"/><circle cx="591.4" cy="199.0" r="0.54" fill="#444444"/><circle cx="586.6" cy="221.3" r="0.73" fill="#454545"/><circle cx="578.9" cy="178.8" r="0.49" fill="#494949"/><circle cx="617.1" cy="191.4" r="0.58" fill="#4a4a4a"/><circle cx="622.5" cy="180.9" r="0.57" fill="#5c5c5c"/><circle cx="638.6" cy="177.5" r="0.67" fill="#515151"/><circle cx="637.9" cy="189.1" r="0.60" fill="#797979"/><circle cx="623.1" cy="165.5" r="0.49" fill="#818181"/><circle cx="580.0" cy="181.8" r="0.74" fill="#3d3d3d"/><circle cx="588.8" cy="174.9" r="0.48" fill="#5d5d5d"/><circle cx="617.7" cy="183.1" r="0.48" fill="#747474"/><circle cx="631.9" cy="202.4" r="0.49" fill="#616161"/><circle cx="620.2" cy="191.8" r="0.71" fill="#575757"/><circle cx="612.2" cy="167.0" r="0.62" fill="#717171"/><circle cx="627.0" cy="178.3" r="0.75" fill="#6e6e6e"/><circle cx="606.4" cy="190.8" r="0.68" fill="#484848"/><circle cx="620.9" cy="214.8" r="0.60" fill="#797979"/><circle cx="609.4" cy="194.7" r="0.54" fill="#7c7c7c"/><circle cx="599.2" cy="212.9" r="0.57" fill="#7d7d7d"/><circle cx="641.5" cy="160.4" r="0.75" fill="#666666"/><circle cx="582.9" cy="197.3" r="0.46" fill="#626262"/><circle cx="590.4" cy="187.1" r="0.54" fill="#666666"/><circle cx="633.1" cy="232.0" r="0.55" fill="#636363"/><circle cx="578.4" cy="187.4" r="0.74" fill="#444444"/><circle cx="636.3" cy="209.5" r="0.54" fill="#727272"/><circle cx="597.4" cy="228.7" r="0.47" fill="#444444"/><circle cx="628.3" cy="193.5" r="0.49" fill="#5f5f5f"/><circle cx="597.9" cy="201.4" r="0.67" fill="#777777"/><circle cx="582.0" cy="204.8" r="0.75" fill="#5c5c5c"/><circle cx="629.6" cy="165.7" r="0.71" fill="#646464"/><circle cx="637.5" cy="220.2" r="0.71" fill="#404040"/><circle cx="625.9" cy="173.6" r="0.53" fill="#525252"/><circle cx="617.6" cy="207.6" r="0.73" fill="#3c3c3c"/><circle cx="591.0" cy="186.6" r="0.70" fill="#626262"/><circle cx="612.3" cy="218.1" r="0.65" fill="#505050"/><circle cx="583.8" cy="194.5" r="0.71" fill="#656565"/><circle cx="581.6" cy="192.8" r="0.57" fill="#646464"/><circle cx="617.3" cy="233.2" r="0.55" fill="#585858"/><circle cx="619.1" cy="228.0" r="0.66" fill="#5c5c5c"/><circle cx="632.6" cy="196.3" r="0.74" fill="#4f4f4f"/><circle cx="586.5" cy="223.6" r="0.54" fill="#777777"/><circle cx="618.8" cy="198.2" r="0.48" fill="#737373"/><circle cx="582.4" cy="234.2" r="0.71" fill="#515151"/><circle cx="586.6" cy="228.0" r="0.59" fill="#444444"/><circle cx="611.4" cy="177.5" r="0.57" fill="#686868"/><circle cx="639.3" cy="221.3" r="0.50" fill="#5d5d5d"/><circle cx="611.0" cy="236.2" r="0.48" fill="#5f5f5f"/><circle cx="639.3" cy="189.5" r="0.53" fill="#626262"/><circle cx="599.4" cy="231.2" r="0.48" fill="#4a4a4a"/><circle cx="583.6" cy="214.2" r="0.54" fill="#7b7b7b"/><circle cx="637.9" cy="232.0" r="0.53" fill="#3c3c3c"/><circle cx="604.0" cy="234.0" r="0.68" fill="#404040"/><circle cx="625.1" cy="230.4" r="0.74" fill="#6e6e6e"/><circle cx="635.8" cy="224.5" r="0.56" fill="#424242"/><circle cx="626.7" cy="168.8" r="0.57" fill="#818181"/><circle cx="615.5" cy="199.2" r="0.73" fill="#4f4f4f"/><circle cx="645.0" cy="230.0" r="0.56" fill="#525252"/><circle cx="586.5" cy="230.3" r="0.51" fill="#3c3c3c"/><circle cx="637.6" cy="205.3" r="0.65" fill="#6f6f6f"/><circle cx="580.9" cy="165.3" r="0.60" fill="#3f3f3f"/><circle cx="611.8" cy="216.2" r="0.65" fill="#676767"/><circle cx="581.1" cy="176.7" r="0.72" fill="#444444"/><circle cx="613.7" cy="162.0" r="0.73" fill="#484848"/><circle cx="605.5" cy="201.2" r="0.67" fill="#7d7d7d"/><circle cx="627.3" cy="185.4" r="0.47" fill="#6d6d6d"/><circle cx="643.2" cy="159.3" r="0.68" fill="#484848"/><circle cx="608.8" cy="199.3" r="0.63" fill="#818181"/><circle cx="624.1" cy="189.0" r="0.66" fill="#5c5c5c"/><circle cx="605.7" cy="186.9" r="0.60" fill="#4f4f4f"/><circle cx="594.2" cy="169.7" r="0.58" fill="#505050"/><circle cx="634.1" cy="225.0" r="0.55" fill="#676767"/><circle cx="638.5" cy="186.4" r="0.62" fill="#5b5b5b"/><circle cx="621.6" cy="233.8" r="0.49" fill="#7f7f7f"/><circle cx="622.6" cy="220.9" r="0.64" fill="#787878"/><circle cx="599.9" cy="213.9" r="0.53" fill="#5f5f5f"/><circle cx="623.7" cy="173.9" r="0.47" fill="#737373"/><circle cx="632.2" cy="210.6" r="0.55" fill="#6a6a6a"/><circle cx="583.6" cy="210.3" r="0.62" fill="#676767"/><circle cx="607.9" cy="175.8" r="0.67" fill="#5c5c5c"/><circle cx="627.9" cy="186.8" r="0.48" fill="#616161"/><circle cx="619.7" cy="230.8" r="0.72" fill="#404040"/><circle cx="629.7" cy="178.6" r="0.66" fill="#565656"/><circle cx="599.6" cy="196.6" r="0.61" fill="#6c6c6c"/><circle cx="620.7" cy="211.6" r="0.57" fill="#6b6b6b"/><circle cx="601.1" cy="206.0" r="0.59" fill="#636363"/><circle cx="579.2" cy="197.4" r="0.52" fill="#575757"/><circle cx="582.9" cy="209.9" r="0.72" fill="#545454"/><circle cx="585.0" cy="207.0" r="0.49" fill="#7a7a7a"/><circle cx="586.2" cy="186.6" r="0.60" fill="#444444"/><circle cx="599.4" cy="179.7" r="0.66" fill="#818181"/><circle cx="602.3" cy="220.5" r="0.49" fill="#646464"/><circle cx="607.0" cy="180.8" r="0.70" fill="#707070"/><circle cx="587.0" cy="181.1" r="0.70" fill="#818181"/><circle cx="619.0" cy="226.9" r="0.75" fill="#6f6f6f"/><circle cx="621.2" cy="175.5" r="0.56" fill="#676767"/><circle cx="640.1" cy="181.8" r="0.57" fill="#3d3d3d"/><circle cx="624.7" cy="193.0" r="0.69" fill="#4c4c4c"/><circle cx="622.2" cy="211.2" r="0.59" fill="#494949"/><circle cx="605.0" cy="216.9" r="0.51" fill="#424242"/><circle cx="609.0" cy="176.5" r="0.69" fill="#757575"/><circle cx="641.3" cy="224.3" r="0.64" fill="#494949"/><circle cx="633.1" cy="215.5" r="0.67" fill="#6c6c6c"/><circle cx="633.6" cy="181.5" r="0.65" fill="#606060"/><circle cx="600.6" cy="183.8" r="0.50" fill="#5e5e5e"/><circle cx="602.7" cy="191.3" r="0.71" fill="#6b6b6b"/><circle cx="623.6" cy="235.7" r="0.52" fill="#5f5f5f"/><circle cx="584.2" cy="189.0" r="0.74" fill="#424242"/><circle cx="628.8" cy="226.4" r="0.60" fill="#737373"/><circle cx="607.6" cy="185.9" r="0.60" fill="#494949"/><circle cx="598.6" cy="182.1" r="0.75" fill="#535353"/><circle cx="593.3" cy="232.2" r="0.49" fill="#7f7f7f"/><circle cx="635.2" cy="209.1" r="0.58" fill="#494949"/><circle cx="585.1" cy="166.2" r="0.55" fill="#585858"/><circle cx="639.9" cy="200.4" r="0.75" fill="#6e6e6e"/><circle cx="587.8" cy="201.7" r="0.50" fill="#3e3e3e"/><circle cx="641.2" cy="184.7" r="0.51" fill="#434343"/><circle cx="621.7" cy="194.4" r="0.45" fill="#6e6e6e"/><circle cx="595.2" cy="219.7" r="0.60" fill="#616161"/><circle cx="608.6" cy="211.4" r="0.75" fill="#737373"/><circle cx="582.6" cy="197.1" r="0.52" fill="#434343"/><circle cx="591.1" cy="177.6" r="0.74" fill="#707070"/><circle cx="635.1" cy="213.2" r="0.54" fill="#575757"/><circle cx="607.5" cy="181.2" r="0.58" fill="#717171"/><circle cx="583.1" cy="179.8" r="0.59" fill="#6b6b6b"/><circle cx="621.3" cy="215.3" r="0.48" fill="#484848"/><circle cx="598.7" cy="180.3" r="0.68" fill="#818181"/><circle cx="623.8" cy="160.6" r="0.54" fill="#747474"/><circle cx="639.9" cy="205.0" r="0.55" fill="#545454"/><circle cx="620.4" cy="226.3" r="0.55" fill="#494949"/><circle cx="578.2" cy="168.9" r="0.71" fill="#676767"/><circle cx="644.4" cy="163.5" r="0.56" fill="#737373"/><circle cx="622.3" cy="163.3" r="0.57" fill="#686868"/><circle cx="624.1" cy="193.7" r="0.51" fill="#7f7f7f"/><circle cx="609.3" cy="214.7" r="0.61" fill="#414141"/><circle cx="593.9" cy="163.0" r="0.51" fill="#4a4a4a"/><circle cx="605.8" cy="183.4" r="0.56" fill="#757575"/><circle cx="579.4" cy="166.2" r="0.69" fill="#616161"/><circle cx="607.4" cy="179.1" r="0.61" fill="#4b4b4b"/><circle cx="635.5" cy="223.1" r="0.55" fill="#3d3d3d"/><circle cx="637.5" cy="181.6" r="0.65" fill="#787878"/><circle cx="631.5" cy="226.1" r="0.60" fill="#767676"/><circle cx="608.9" cy="178.8" r="0.59" fill="#535353"/><circle cx="629.4" cy="223.7" r="0.49" fill="#474747"/><circle cx="603.7" cy="194.6" r="0.74" fill="#7d7d7d"/><circle cx="642.8" cy="215.7" r="0.65" fill="#4e4e4e"/><circle cx="603.0" cy="158.2" r="0.70" fill="#4f4f4f"/><circle cx="583.3" cy="182.9" r="0.55" fill="#6e6e6e"/><circle cx="578.4" cy="176.2" r="0.72" fill="#777777"/><circle cx="620.1" cy="202.2" r="0.52" fill="#797979"/><circle cx="629.0" cy="198.5" r="0.50" fill="#4b4b4b"/><circle cx="603.4" cy="184.2" r="0.47" fill="#585858"/><circle cx="608.1" cy="180.7" r="0.57" fill="#535353"/><circle cx="603.2" cy="206.9" r="0.60" fill="#494949"/><circle cx="631.3" cy="198.5" r="0.59" fill="#6d6d6d"/><circle cx="628.4" cy="225.1" r="0.69" fill="#6a6a6a"/><circle cx="626.3" cy="170.4" r="0.66" fill="#4d4d4d"/><circle cx="595.3" cy="167.5" r="0.57" fill="#3d3d3d"/><circle cx="622.0" cy="217.1" r="0.68" fill="#454545"/><circle cx="621.0" cy="224.2" r="0.46" fill="#494949"/><circle cx="595.9" cy="194.5" r="0.50" fill="#616161"/><circle cx="601.0" cy="209.8" r="0.61" fill="#6c6c6c"/><circle cx="594.5" cy="213.9" r="0.67" fill="#6e6e6e"/><circle cx="582.6" cy="232.7" r="0.62" fill="#4f4f4f"/><circle cx="607.1" cy="198.9" r="0.61" fill="#4d4d4d"/><circle cx="595.8" cy="186.7" r="0.68" fill="#5a5a5a"/><circle cx="580.6" cy="193.7" r="0.51" fill="#3c3c3c"/><circle cx="643.5" cy="181.2" r="0.61" fill="#555555"/><circle cx="581.6" cy="229.2" r="0.73" fill="#494949"/><circle cx="606.0" cy="187.5" r="0.50" fill="#6a6a6a"/><circle cx="630.4" cy="218.0" r="0.65" fill="#3d3d3d"/><circle cx="593.4" cy="198.7" r="0.66" fill="#575757"/><circle cx="608.1" cy="224.4" r="0.46" fill="#4e4e4e"/><circle cx="597.4" cy="236.4" r="0.52" fill="#3f3f3f"/><circle cx="605.9" cy="209.3" r="0.50" fill="#767676"/><circle cx="591.2" cy="213.6" r="0.50" fill="#797979"/><circle cx="591.5" cy="215.8" r="0.70" fill="#4d4d4d"/><circle cx="584.2" cy="204.3" r="0.60" fill="#5d5d5d"/><circle cx="630.3" cy="194.6" r="0.60" fill="#5e5e5e"/><circle cx="608.5" cy="190.1" r="0.50" fill="#505050"/><circle cx="595.7" cy="177.6" r="0.68" fill="#434343"/><circle cx="591.8" cy="199.6" r="0.54" fill="#4c4c4c"/><circle cx="603.0" cy="197.7" r="0.65" fill="#808080"/><circle cx="635.1" cy="192.0" r="0.59" fill="#595959"/><circle cx="594.0" cy="233.2" r="0.47" fill="#4a4a4a"/><circle cx="622.4" cy="204.6" r="0.53" fill="#7d7d7d"/><circle cx="605.4" cy="205.1" r="0.48" fill="#7a7a7a"/><circle cx="584.9" cy="189.1" r="0.72" fill="#7e7e7e"/><circle cx="638.6" cy="223.4" r="0.52" fill="#3e3e3e"/><circle cx="608.3" cy="163.0" r="0.74" fill="#3c3c3c"/><circle cx="599.8" cy="174.1" r="0.45" fill="#5e5e5e"/><circle cx="583.1" cy="229.1" r="0.66" fill="#555555"/><circle cx="634.4" cy="221.0" r="0.55" fill="#777777"/><circle cx="640.3" cy="207.0" r="0.56" fill="#7b7b7b"/><circle cx="641.2" cy="185.4" r="0.48" fill="#787878"/><circle cx="622.5" cy="176.3" r="0.62" fill="#515151"/><circle cx="639.6" cy="185.0" r="0.51" fill="#3f3f3f"/><circle cx="600.9" cy="236.2" r="0.52" fill="#5c5c5c"/><circle cx="643.1" cy="158.5" r="0.54" fill="#757575"/><circle cx="584.4" cy="231.3" r="0.70" fill="#464646"/><circle cx="617.7" cy="201.9" r="0.66" fill="#515151"/><circle cx="603.7" cy="177.0" r="0.54" fill="#484848"/><circle cx="638.6" cy="228.1" r="0.56" fill="#6c6c6c"/><circle cx="610.8" cy="180.2" r="0.55" fill="#7f7f7f"/><circle cx="600.9" cy="203.7" r="0.73" fill="#505050"/><circle cx="632.2" cy="167.0" r="0.67" fill="#747474"/><circle cx="634.1" cy="235.0" r="0.66" fill="#808080"/><circle cx="596.6" cy="199.2" r="0.51" fill="#414141"/><circle cx="607.4" cy="214.9" r="0.68" fill="#3d3d3d"/><circle cx="641.1" cy="177.5" r="0.54" fill="#767676"/><circle cx="637.9" cy="216.2" r="0.55" fill="#5c5c5c"/><circle cx="633.9" cy="186.2" r="0.69" fill="#727272"/><circle cx="609.4" cy="228.8" r="0.57" fill="#707070"/><circle cx="620.9" cy="184.2" r="0.61" fill="#666666"/><circle cx="614.0" cy="166.7" r="0.75" fill="#7f7f7f"/><circle cx="580.5" cy="232.6" r="0.61" fill="#444444"/><circle cx="633.0" cy="192.2" r="0.66" fill="#757575"/><circle cx="614.0" cy="161.9" r="0.70" fill="#6c6c6c"/><circle cx="639.0" cy="179.3" r="0.69" fill="#797979"/><circle cx="601.8" cy="190.4" r="0.55" fill="#3c3c3c"/><circle cx="593.5" cy="184.2" r="0.48" fill="#717171"/><circle cx="606.6" cy="202.9" r="0.54" fill="#555555"/><circle cx="628.5" cy="195.1" r="0.63" fill="#595959"/><circle cx="615.3" cy="228.9" r="0.53" fill="#606060"/><circle cx="624.0" cy="164.9" r="0.74" fill="#5e5e5e"/><circle cx="594.4" cy="218.1" r="0.69" fill="#686868"/><circle cx="639.4" cy="165.0" r="0.61" fill="#707070"/><circle cx="639.4" cy="208.7" r="0.63" fill="#575757"/><circle cx="616.3" cy="201.8" r="0.72" fill="#757575"/><circle cx="627.4" cy="231.0" r="0.47" fill="#717171"/><circle cx="609.1" cy="217.4" r="0.54" fill="#5c5c5c"/><circle cx="633.2" cy="160.8" r="0.54" fill="#5e5e5e"/><circle cx="635.1" cy="179.3" r="0.70" fill="#4d4d4d"/><circle cx="598.3" cy="201.8" r="0.65" fill="#797979"/><circle cx="636.9" cy="177.8" r="0.67" fill="#686868"/><circle cx="603.9" cy="219.3" r="0.72" fill="#5d5d5d"/><circle cx="639.4" cy="168.1" r="0.50" fill="#717171"/><circle cx="598.5" cy="204.2" r="0.60" fill="#464646"/><circle cx="628.5" cy="216.6" r="0.49" fill="#4e4e4e"/><circle cx="631.6" cy="230.1" r="0.71" fill="#5f5f5f"/><circle cx="602.6" cy="193.2" r="0.50" fill="#5e5e5e"/><circle cx="593.5" cy="170.8" r="0.56" fill="#404040"/><circle cx="609.5" cy="213.0" r="0.65" fill="#808080"/><circle cx="637.3" cy="208.1" r="0.72" fill="#5b5b5b"/><circle cx="631.5" cy="180.5" r="0.61" fill="#808080"/><circle cx="618.1" cy="198.0" r="0.69" fill="#515151"/><circle cx="633.7" cy="159.5" r="0.52" fill="#484848"/><circle cx="595.2" cy="232.7" r="0.46" fill="#505050"/><circle cx="616.5" cy="213.5" r="0.68" fill="#565656"/><circle cx="592.8" cy="225.3" r="0.49" fill="#404040"/><circle cx="593.5" cy="196.9" r="0.73" fill="#6f6f6f"/><circle cx="615.8" cy="199.2" r="0.66" fill="#676767"/><circle cx="600.5" cy="165.3" r="0.51" fill="#727272"/><circle cx="620.5" cy="221.0" r="0.46" fill="#7b7b7b"/><circle cx="603.6" cy="231.2" r="0.63" fill="#626262"/><circle cx="632.8" cy="207.4" r="0.65" fill="#474747"/><circle cx="618.5" cy="186.2" r="0.47" fill="#454545"/><circle cx="610.1" cy="178.7" r="0.68" fill="#444444"/><circle cx="578.9" cy="236.8" r="0.54" fill="#5f5f5f"/><circle cx="592.1" cy="174.5" r="0.57" fill="#737373"/><circle cx="580.6" cy="224.1" r="0.75" fill="#636363"/><circle cx="602.1" cy="176.5" r="0.50" fill="#525252"/><circle cx="635.1" cy="158.3" r="0.69" fill="#6a6a6a"/><circle cx="579.3" cy="163.5" r="0.67" fill="#6b6b6b"/><circle cx="599.0" cy="226.0" r="0.51" fill="#595959"/><circle cx="585.7" cy="209.0" r="0.48" fill="#484848"/><circle cx="629.3" cy="197.5" r="0.65" fill="#6f6f6f"/><circle cx="618.6" cy="173.6" r="0.66" fill="#444444"/><circle cx="596.1" cy="193.4" r="0.48" fill="#434343"/><circle cx="621.7" cy="216.6" r="0.56" fill="#575757"/><circle cx="591.9" cy="199.2" r="0.62" fill="#7d7d7d"/><circle cx="580.7" cy="229.8" r="0.75" fill="#545454"/><circle cx="626.6" cy="223.2" r="0.65" fill="#505050"/><circle cx="619.7" cy="227.3" r="0.48" fill="#5d5d5d"/><circle cx="579.5" cy="224.8" r="0.68" fill="#3f3f3f"/><circle cx="628.0" cy="212.6" r="0.49" fill="#606060"/><circle cx="624.2" cy="184.5" r="0.60" fill="#808080"/><circle cx="620.6" cy="197.7" r="0.47" fill="#444444"/><circle cx="635.0" cy="216.7" r="0.70" fill="#646464"/><circle cx="616.6" cy="199.9" r="0.67" fill="#535353"/><circle cx="611.3" cy="195.1" r="0.65" fill="#4b4b4b"/><circle cx="579.7" cy="165.0" r="0.50" fill="#787878"/><circle cx="626.0" cy="217.2" r="0.58" fill="#434343"/><circle cx="609.2" cy="226.2" r="0.60" fill="#686868"/><circle cx="603.1" cy="169.9" r="0.64" fill="#5d5d5d"/><circle cx="601.2" cy="178.4" r="0.66" fill="#525252"/><circle cx="616.6" cy="178.5" r="0.68" fill="#565656"/><circle cx="610.1" cy="231.3" r="0.67" fill="#6f6f6f"/><circle cx="600.7" cy="224.4" r="0.57" fill="#818181"/><circle cx="638.0" cy="210.1" r="0.70" fill="#626262"/><circle cx="627.1" cy="167.9" r="0.75" fill="#747474"/><circle cx="587.5" cy="177.2" r="0.62" fill="#717171"/><circle cx="588.0" cy="233.9" r="0.55" fill="#818181"/><circle cx="628.4" cy="196.4" r="0.56" fill="#424242"/><circle cx="583.9" cy="207.7" r="0.68" fill="#7b7b7b"/><circle cx="602.5" cy="232.1" r="0.54" fill="#7d7d7d"/><circle cx="639.6" cy="170.2" r="0.71" fill="#6d6d6d"/><circle cx="625.1" cy="224.4" r="0.61" fill="#5f5f5f"/><circle cx="602.6" cy="226.4" r="0.72" fill="#474747"/><circle cx="629.7" cy="179.8" r="0.51" fill="#494949"/><circle cx="616.4" cy="180.1" r="0.52" fill="#424242"/><circle cx="599.8" cy="219.2" r="0.46" fill="#5d5d5d"/><circle cx="618.4" cy="161.9" r="0.54" fill="#7b7b7b"/><circle cx="644.6" cy="225.2" r="0.50" fill="#717171"/><circle cx="608.2" cy="171.5" r="0.59" fill="#7c7c7c"/><circle cx="636.8" cy="188.9" r="0.47" fill="#7b7b7b"/><circle cx="644.1" cy="198.4" r="0.52" fill="#626262"/><circle cx="624.7" cy="196.1" r="0.56" fill="#4d4d4d"/><circle cx="597.9" cy="161.9" r="0.53" fill="#7e7e7e"/><circle cx="578.5" cy="215.5" r="0.69" fill="#585858"/><circle cx="617.9" cy="175.4" r="0.65" fill="#6d6d6d"/><circle cx="627.2" cy="196.8" r="0.74" fill="#787878"/><circle cx="616.4" cy="211.9" r="0.53" fill="#7e7e7e"/><circle cx="621.2" cy="228.7" r="0.54" fill="#808080"/><circle cx="585.1" cy="199.9" r="0.48" fill="#494949"/><circle cx="629.2" cy="163.2" r="0.56" fill="#494949"/><circle cx="635.0" cy="164.5" r="0.55" fill="#777777"/><circle cx="624.0" cy="213.6" r="0.75" fill="#3d3d3d"/><circle cx="622.5" cy="216.9" r="0.67" fill="#6d6d6d"/><circle cx="582.8" cy="164.6" r="0.68" fill="#666666"/><circle cx="595.6" cy="158.7" r="0.61" fill="#424242"/><circle cx="628.1" cy="184.9" r="0.69" fill="#424242"/><circle cx="611.1" cy="165.9" r="0.68" fill="#636363"/><circle cx="593.7" cy="234.1" r="0.65" fill="#535353"/><circle cx="635.3" cy="188.0" r="0.73" fill="#505050"/><circle cx="644.0" cy="162.9" r="0.67" fill="#505050"/><circle cx="606.4" cy="208.3" r="0.46" fill="#4b4b4b"/><circle cx="585.0" cy="216.4" r="0.52" fill="#5e5e5e"/><circle cx="600.0" cy="176.7" r="0.73" fill="#5f5f5f"/><circle cx="621.6" cy="213.6" r="0.70" fill="#4e4e4e"/><circle cx="583.3" cy="194.9" r="0.50" fill="#3d3d3d"/><circle cx="639.6" cy="207.5" r="0.57" fill="#454545"/><circle cx="629.0" cy="200.1" r="0.50" fill="#808080"/><circle cx="641.7" cy="231.2" r="0.70" fill="#616161"/><circle cx="598.1" cy="209.5" r="0.50" fill="#676767"/><circle cx="582.4" cy="159.1" r="0.66" fill="#535353"/><circle cx="624.7" cy="219.6" r="0.70" fill="#676767"/><circle cx="634.7" cy="210.1" r="0.73" fill="#7a7a7a"/><circle cx="580.9" cy="179.1" r="0.57" fill="#4d4d4d"/><circle cx="589.9" cy="227.0" r="0.46" fill="#484848"/></g><path d="M580.6,171.9 C583,169.5 585,168 587.5,166.9 C590,165.2 593,163.8 596.25,163.1 C599,162 601.5,161 603.75,160.6 C605.5,160.4 607.5,160.6 608.75,161.25 L611.25,163.1 L622.5,181.25 L630,193.75 L637.5,210 L641.9,218.75 L641.25,221.25 L620,235 L617.5,234.4 Z" stroke-width="1.3"/>
<path d="M596.25,170 L628.75,222.5 M596.25,170 L595.5,174 M596.25,170 L599,172.5" stroke-width="1.1"/>
<path d="M611.25,175.5 L628.5,208 C629.5,210 632,209.5 631.5,207 L615,175 C614,172.8 611.5,173 611.25,175.5 Z" fill="#fff" stroke-width="1.1"/>
<path d="M614,177.5 L626.5,202" stroke-width="0.9"/>
<text transform="translate(615.5,209) rotate(-117)" font-size="7.6" font-weight="bold" fill="#111" stroke="none" textLength="26" lengthAdjust="spacingAndGlyphs">START</text>
<path d="M610.6,151.6 C614,151.5 617.5,151.9 621,153.5 C626,155.5 630,159.5 633.75,166.25 C635.5,170 636,173 635.6,176.25 C635,180 634,182 633.75,183.75 C631.5,186.5 630,188 627.5,189.4 C625,190.5 622.5,191.5 620,191.9" stroke-width="3.3"/>
<path d="M610.6,151.6 C614,151.5 617.5,151.9 621,153.5 C626,155.5 630,159.5 633.75,166.25 C635.5,170 636,173 635.6,176.25 C635,180 634,182 633.75,183.75 C631.5,186.5 630,188 627.5,189.4 C625,190.5 622.5,191.5 620,191.9" stroke="#fff" stroke-width="1.2"/>
</g>

</g>

</svg>
</body></html>
